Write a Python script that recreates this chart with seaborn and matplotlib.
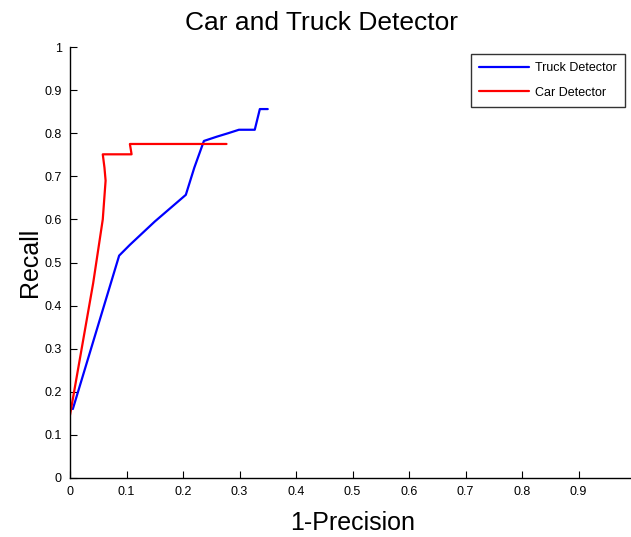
import pandas as pd
import matplotlib
matplotlib.use("Agg")
import matplotlib.pyplot as plt
import seaborn as sns

# ROC-like curves (x = 1-Precision, y = Recall)
truck_x = [0.005, 0.087, 0.106, 0.150, 0.205, 0.220, 0.237, 0.260, 0.280, 0.299, 0.327, 0.336, 0.350]
truck_y = [0.160, 0.516, 0.541, 0.595, 0.657, 0.720, 0.782, 0.792, 0.800, 0.808, 0.808, 0.856, 0.856]

car_x = [0.000, 0.041, 0.058, 0.063, 0.061, 0.058, 0.109, 0.106, 0.277]
car_y = [0.146, 0.452, 0.600, 0.690, 0.720, 0.751, 0.751, 0.775, 0.775]

sns.set_style("ticks")
plt.rcParams["font.family"] = ["Liberation Sans", "DejaVu Sans"]
plt.rcParams["text.color"] = "black"
plt.rcParams["axes.labelcolor"] = "black"

df = pd.concat([
    pd.DataFrame({"x": truck_x, "y": truck_y, "Detector": "Truck Detector", "order": range(len(truck_x))}),
    pd.DataFrame({"x": car_x, "y": car_y, "Detector": "Car Detector", "order": range(len(car_x))}),
])

fig = plt.figure(figsize=(6.31, 5.37), dpi=100)
ax = fig.add_axes([70 / 631, 59 / 537, 565 / 631, 431 / 537])

sns.lineplot(data=df, x="x", y="y", hue="Detector", sort=False, estimator=None,
             palette={"Truck Detector": "#0000ff", "Car Detector": "#ff0000"},
             linewidth=1.6, ax=ax)

ax.set_xlim(0, 1)
ax.set_ylim(0, 1)
ticks = [i / 10 for i in range(11)]
labels = ["0"] + [f"{t:.1f}" for t in ticks[1:-1]] + ["1"]
ax.set_xticks(ticks)
ax.set_xticklabels(labels)
ax.set_yticks(ticks)
ax.set_yticklabels(labels)
ax.tick_params(direction="in", length=5, labelsize=9, pad=6, colors="black")
for s in ["top", "right"]:
    ax.spines[s].set_visible(False)
for s in ["left", "bottom"]:
    ax.spines[s].set_color("black")
    ax.spines[s].set_linewidth(1.0)

ax.set_title("Car and Truck Detector", fontsize=19, pad=12, x=0.446, color="black")
ax.set_xlabel("1-Precision", fontsize=18, labelpad=9)
ax.set_ylabel("Recall", fontsize=18, labelpad=2)

leg = ax.legend(loc="upper right", bbox_to_anchor=(625 / 631, 1 - 54 / 537),
                bbox_transform=fig.transFigure, borderaxespad=0, fontsize=9,
                frameon=True, fancybox=False, handlelength=4, handletextpad=0.5,
                borderpad=0.65, labelspacing=1.0)
leg.get_frame().set_edgecolor("black")
leg.get_frame().set_linewidth(1.0)

fig.savefig("out.png", dpi=100)
